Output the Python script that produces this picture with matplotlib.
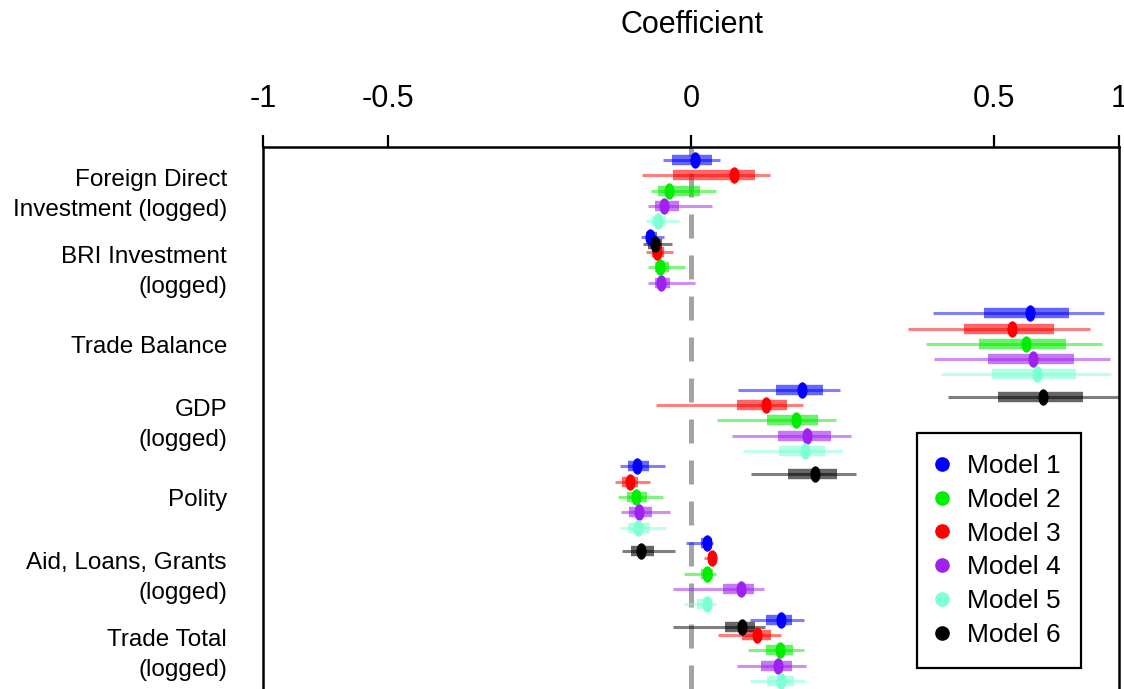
#!/usr/bin/env python3
"""Coefficient plot: six models, signed square-root coefficient axis."""

import numpy as np
import matplotlib
matplotlib.use("Agg")
import matplotlib.pyplot as plt
import matplotlib.transforms as mtrans
from matplotlib.path import Path
from matplotlib.lines import Line2D

plt.rcParams["font.family"] = ["Liberation Sans", "DejaVu Sans"]
plt.rcParams["axes.unicode_minus"] = False

# variable labels and the row they sit on (rows count down from the top)
var_labels = [
    "Foreign Direct\nInvestment (logged)",
    "BRI Investment\n(logged)",
    "Trade Balance",
    "GDP\n(logged)",
    "Polity",
    "Aid, Loans, Grants\n(logged)",
    "Trade Total\n(logged)",
]
var_rows = [1.87, 6.87, 12.05, 16.87, 22.05, 26.87, 31.87]

model_names = ["Model 1", "Model 2", "Model 3", "Model 4", "Model 5", "Model 6"]
model_colors = ["#0000FF", "#00EE00", "#FF0000", "#A020F0", "#7FFFD4", "#000000"]

# rows per model
rows_m1 = [0, 5, 10, 15, 20, 25, 30]
rows_m2 = [2, 7, 12, 17, 22, 27, 32]
rows_m3 = [1, 6, 11, 16, 21, 26, 31]
rows_m4 = [3, 8, 13, 18, 23, 28, 33]
rows_m5 = [4, 14, 19, 24, 29, 34]
rows_m6 = [5.5, 15.5, 20.5, 25.5, 30.5]

# estimates: point, inner interval (lo, hi), outer interval (lo, hi)
est_m1 = [0.0001, -0.0090, 0.626, 0.067, -0.0157, 0.00135, 0.044]
in_lo_m1 = [-0.0020, -0.0112, 0.470, 0.0392, -0.0217, 0.0005, 0.031]
in_hi_m1 = [0.0025, -0.0062, 0.780, 0.095, -0.0096, 0.0023, 0.056]
out_lo_m1 = [-0.0043, -0.0138, 0.321, 0.0122, -0.0278, -0.00015, 0.0188]
out_hi_m1 = [0.0045, -0.0040, 0.931, 0.122, -0.0037, 0.0027, 0.0697]

est_m2 = [-0.0026, -0.0053, 0.612, 0.060, -0.0163, 0.00145, 0.0432]
in_lo_m2 = [-0.0058, -0.0072, 0.453, 0.0313, -0.0222, 0.0005, 0.0305]
in_hi_m2 = [0.0004, -0.0026, 0.769, 0.0876, -0.0104, 0.0026, 0.0568]
out_lo_m2 = [-0.0086, -0.0100, 0.301, 0.0036, -0.0289, -0.00025, 0.0179]
out_hi_m2 = [0.0035, -0.0002, 0.921, 0.115, -0.0043, 0.0033, 0.0697]

est_m3 = [0.0102, -0.0064, 0.5625, 0.031, -0.0205, 0.0023, 0.024]
in_lo_m3 = [-0.0018, -0.0084, 0.408, 0.0114, -0.0262, 0.0016, 0.014]
in_hi_m3 = [0.0224, -0.0040, 0.7205, 0.050, -0.0152, 0.0029, 0.0347]
out_lo_m3 = [-0.0133, -0.0109, 0.258, -0.0068, -0.0315, 0.0009, 0.0040]
out_hi_m3 = [0.0338, -0.0018, 0.868, 0.0685, -0.0093, 0.0033, 0.0445]

est_m4 = [-0.0040, -0.0048, 0.640, 0.0738, -0.0148, 0.0138, 0.0413]
in_lo_m4 = [-0.0072, -0.0072, 0.481, 0.0413, -0.0210, 0.0057, 0.0265]
in_hi_m4 = [-0.0008, -0.0024, 0.802, 0.1075, -0.0084, 0.0217, 0.056]
out_lo_m4 = [-0.0102, -0.0100, 0.323, 0.009, -0.0270, -0.0018, 0.0117]
out_hi_m4 = [0.0023, 0.0001, 0.958, 0.139, -0.0025, 0.0291, 0.0718]

est_m5 = [-0.0059, 0.652, 0.0706, -0.0152, 0.00145, 0.0445]
in_lo_m5 = [-0.0082, 0.495, 0.0423, -0.0217, 0.0002, 0.0313]
in_hi_m5 = [-0.0033, 0.810, 0.098, -0.0093, 0.0025, 0.0579]
out_lo_m5 = [-0.0109, 0.341, 0.0149, -0.0278, -0.0003, 0.019]
out_hi_m5 = [-0.0008, 0.962, 0.125, -0.0033, 0.0033, 0.071]

est_m6 = [-0.0072, 0.6775, 0.0839, -0.0138, 0.014]
in_lo_m6 = [-0.0100, 0.5155, 0.0514, -0.0199, 0.0062]
in_hi_m6 = [-0.0045, 0.840, 0.1168, -0.0075, 0.0221]
out_lo_m6 = [-0.0126, 0.361, 0.0199, -0.0258, -0.0017]
out_hi_m6 = [-0.0019, 1.05, 0.148, -0.0014, 0.0297]

x_ticks = [-1, -0.5, 0, 0.5, 1]
x_ticklabels = ["-1", "-0.5", "0", "0.5", "1"]


def fwd(x):
    x = np.asarray(x, dtype=float)
    return np.sign(x) * np.sqrt(np.abs(x))


def inv(y):
    y = np.asarray(y, dtype=float)
    return np.sign(y) * y ** 2


models = [
    (rows_m1, est_m1, in_lo_m1, in_hi_m1, out_lo_m1, out_hi_m1),
    (rows_m2, est_m2, in_lo_m2, in_hi_m2, out_lo_m2, out_hi_m2),
    (rows_m3, est_m3, in_lo_m3, in_hi_m3, out_lo_m3, out_hi_m3),
    (rows_m4, est_m4, in_lo_m4, in_hi_m4, out_lo_m4, out_hi_m4),
    (rows_m5, est_m5, in_lo_m5, in_hi_m5, out_lo_m5, out_hi_m5),
    (rows_m6, est_m6, in_lo_m6, in_hi_m6, out_lo_m6, out_hi_m6),
]

ellipse = Path.unit_circle().transformed(mtrans.Affine2D().scale(0.58, 1.0))

fig = plt.figure(figsize=(11.24, 6.89), dpi=100)
ax = fig.add_axes([263 / 1124, 0.0, (1119 - 263) / 1124, 1 - 147 / 689])
ax.set_xscale("function", functions=(fwd, inv))
ax.set_xlim(-1, 1)
ax.set_ylim(34.53, -0.85)

ax.axvline(0, color="#999999", lw=3.6, dashes=(4.8, 3.4), zorder=1, alpha=0.9)

for (rows, est, ilo, ihi, olo, ohi), col in zip(models, model_colors):
    ax.hlines(rows, olo, ohi, color=col, lw=2.2, alpha=0.5, zorder=2)
    ax.hlines(rows, ilo, ihi, color=col, lw=7.5, alpha=0.6, zorder=3)
    ax.plot(est, rows, ls="none", marker=ellipse, ms=10.8, color=col,
            mec=col, zorder=4)

ax.xaxis.tick_top()
ax.set_xticks(x_ticks)
ax.set_xticklabels(x_ticklabels)
ax.minorticks_off()
ax.tick_params(axis="x", which="major", direction="out", length=8.6,
               width=1.6, pad=15, labelsize=22)
ax.set_yticks(var_rows)
ax.set_yticklabels(var_labels, fontsize=17.5, linespacing=1.46)
for lab in ax.get_yticklabels():
    lab.set_multialignment("right")
ax.tick_params(axis="y", length=0, pad=26)

for side in ["top", "left", "right"]:
    ax.spines[side].set_linewidth(1.8)
ax.spines["bottom"].set_visible(False)

fig.text(692 / 1124, 1 - 25 / 689, "Coefficient", ha="center", va="center",
         fontsize=22)

handles = [Line2D([], [], ls="none", marker="o", ms=9.5, color=c)
           for c in model_colors]
leg = ax.legend(handles, model_names, loc="upper left",
                bbox_to_anchor=(917 / 1124, 1 - 433 / 689),
                bbox_transform=fig.transFigure, fontsize=19, frameon=True,
                fancybox=False, edgecolor="black", framealpha=1,
                handlelength=0.3, handletextpad=0.78, labelspacing=0.37,
                borderpad=0.8, borderaxespad=0)
leg.get_frame().set_linewidth(1.6)

fig.savefig("out.png", dpi=100)
